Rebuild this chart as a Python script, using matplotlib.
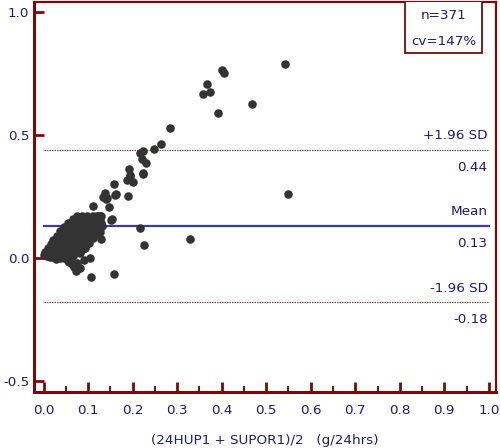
import matplotlib
matplotlib.use("Agg")
import matplotlib.pyplot as plt
from matplotlib.ticker import MultipleLocator, FormatStrFormatter
from matplotlib.patches import Rectangle

# ---- data ----
# scattered points (mean of methods, difference)
x_outer = [0.543, 0.401, 0.405, 0.368, 0.357, 0.373, 0.467, 0.392, 0.550, 0.330,
           0.283, 0.264, 0.249, 0.224, 0.216, 0.221, 0.230, 0.223, 0.191, 0.188,
           0.195, 0.202, 0.190, 0.158, 0.162, 0.137, 0.134, 0.141, 0.147, 0.110,
           0.153, 0.119, 0.130, 0.216, 0.226, 0.128, 0.097, 0.107, 0.158, 0.083,
           0.068, 0.075, 0.072, 0.055, 0.028, 0.006, 0.143, 0.152, 0.126, 0.085,
           0.100, 0.224, 0.194, 0.161]
y_outer = [0.789, 0.764, 0.751, 0.707, 0.665, 0.672, 0.625, 0.587, 0.261, 0.077,
           0.527, 0.463, 0.442, 0.435, 0.425, 0.401, 0.385, 0.341, 0.360, 0.317,
           0.335, 0.309, 0.253, 0.301, 0.259, 0.263, 0.249, 0.238, 0.206, 0.211,
           0.157, 0.168, 0.171, 0.121, 0.053, 0.076, 0.062, -0.076, -0.065, -0.042,
           -0.038, -0.022, -0.052, -0.011, -0.004, 0.013, 0.243, 0.154, 0.171, 0.161,
           0.060, 0.344, 0.333, 0.256]

# dense cluster near the origin
x_dense = [0.002, 0.008, 0.015, 0.022, 0.030, 0.038, 0.046, 0.052,
           0.004, 0.012, 0.020, 0.028, 0.036, 0.044, 0.052, 0.060, 0.066,
           0.010, 0.018, 0.026, 0.034, 0.042, 0.050, 0.058, 0.066, 0.074, 0.082,
           0.016, 0.024, 0.032, 0.040, 0.048, 0.056, 0.064, 0.072, 0.080, 0.088, 0.094,
           0.022, 0.030, 0.038, 0.046, 0.054, 0.062, 0.070, 0.078, 0.086, 0.094, 0.102,
           0.030, 0.038, 0.046, 0.054, 0.062, 0.070, 0.078, 0.086, 0.094, 0.102, 0.110,
           0.038, 0.046, 0.054, 0.062, 0.070, 0.078, 0.086, 0.094, 0.102, 0.110, 0.118, 0.126,
           0.046, 0.054, 0.062, 0.070, 0.078, 0.086, 0.094, 0.102, 0.110, 0.118, 0.126, 0.132,
           0.056, 0.064, 0.072, 0.080, 0.088, 0.096, 0.104, 0.112, 0.120, 0.128,
           0.066, 0.074, 0.082, 0.090, 0.098, 0.108, 0.118, 0.126,
           0.076, 0.086, 0.098, 0.112, 0.122,
           0.058, 0.064, 0.070, 0.090, 0.105]
y_dense = [0.012, 0.006, 0.004, 0.002, 0.000, 0.000, -0.002, -0.004,
           0.024, 0.022, 0.020, 0.018, 0.016, 0.012, 0.010, 0.008, 0.006,
           0.040, 0.038, 0.036, 0.034, 0.032, 0.030, 0.028, 0.026, 0.022, 0.020,
           0.056, 0.054, 0.052, 0.050, 0.048, 0.046, 0.044, 0.042, 0.040, 0.038, 0.040,
           0.072, 0.070, 0.068, 0.066, 0.064, 0.062, 0.060, 0.058, 0.056, 0.056, 0.060,
           0.090, 0.088, 0.086, 0.084, 0.082, 0.080, 0.078, 0.076, 0.074, 0.076, 0.080,
           0.108, 0.106, 0.104, 0.102, 0.100, 0.098, 0.096, 0.094, 0.094, 0.096, 0.100, 0.104,
           0.126, 0.124, 0.122, 0.120, 0.118, 0.116, 0.114, 0.114, 0.116, 0.118, 0.122, 0.128,
           0.142, 0.140, 0.138, 0.136, 0.134, 0.132, 0.132, 0.134, 0.136, 0.140,
           0.158, 0.156, 0.154, 0.152, 0.150, 0.150, 0.152, 0.156,
           0.170, 0.172, 0.170, 0.168, 0.168,
           -0.016, -0.024, -0.030, -0.008, 0.000]

mean_diff = 0.13
upper_loa = 0.44
lower_loa = -0.18
n_text = "n=371"
cv_text = "cv=147%"
xlabel = "(24HUP1 + SUPOR1)/2   (g/24hrs)"

# ---- styling ----
spine_col = "#7a0a0a"
txt_col = "#1c1c6e"
dot_col = "#333333"

fig = plt.figure(figsize=(5.0, 4.48), dpi=100)
ax = fig.add_axes([0.067, 0.126, 0.925, 0.870])
ax.set_xlim(-0.0225, 1.016)
ax.set_ylim(-0.543, 1.040)

ax.scatter(x_dense, y_dense, s=38, color=dot_col, linewidths=0, zorder=3)
ax.scatter(x_outer, y_outer, s=38, color=dot_col, linewidths=0, zorder=3)

ax.plot([0, 1], [upper_loa, upper_loa], color="#8a4a4a", lw=0.9, ls=(0, (1.2, 0.8)), zorder=2)
ax.plot([0, 1], [lower_loa, lower_loa], color="#8a4a4a", lw=0.9, ls=(0, (1.2, 0.8)), zorder=2)
ax.plot([0, 1], [mean_diff, mean_diff], color="#3c3ca0", lw=1.6, zorder=2)

fs = 9.7
ax.text(0.997, upper_loa + 0.03, "+1.96 SD", ha="right", va="bottom", color=txt_col, fontsize=fs)
ax.text(0.997, upper_loa - 0.045, f"{upper_loa:.2f}", ha="right", va="top", color=txt_col, fontsize=fs)
ax.text(0.997, mean_diff + 0.03, "Mean", ha="right", va="bottom", color=txt_col, fontsize=fs)
ax.text(0.997, mean_diff - 0.045, f"{mean_diff:.2f}", ha="right", va="top", color=txt_col, fontsize=fs)
ax.text(0.997, lower_loa + 0.03, "-1.96 SD", ha="right", va="bottom", color=txt_col, fontsize=fs)
ax.text(0.997, lower_loa - 0.045, f"{lower_loa:.2f}", ha="right", va="top", color=txt_col, fontsize=fs)

# n / cv box (top right, touching the top of the frame)
box = Rectangle((0.812, 0.833), 0.173, 0.25, transform=ax.transData,
                facecolor="white", edgecolor=spine_col, lw=1.3, zorder=4, clip_on=True)
ax.add_patch(box)
ax.text(0.898, 0.984, n_text, ha="center", va="center", color=txt_col, fontsize=fs, zorder=5)
ax.text(0.898, 0.878, cv_text, ha="center", va="center", color=txt_col, fontsize=fs, zorder=5)

for s in ["left", "bottom"]:
    ax.spines[s].set_color(spine_col)
    ax.spines[s].set_linewidth(2.2)
for s in ["top", "right"]:
    ax.spines[s].set_color(spine_col)
    ax.spines[s].set_linewidth(1.6)

ax.set_xticks([0.0, 0.1, 0.2, 0.3, 0.4, 0.5, 0.6, 0.7, 0.8, 0.9, 1.0])
ax.set_yticks([-0.5, 0.0, 0.5, 1.0])
ax.xaxis.set_minor_locator(MultipleLocator(0.05))
ax.tick_params(axis="both", which="major", direction="in", length=7, width=2.0,
               color=spine_col, labelcolor=txt_col, labelsize=fs, pad=9)
ax.tick_params(axis="x", which="minor", direction="in", length=4, width=1.4, color=spine_col)
ax.tick_params(axis="y", which="major", pad=3)
ax.xaxis.set_major_formatter(FormatStrFormatter("%.1f"))
ax.yaxis.set_major_formatter(FormatStrFormatter("%.1f"))
ax.set_xlabel(xlabel, color=txt_col, fontsize=fs, labelpad=12)

fig.savefig("out.png", dpi=100)
